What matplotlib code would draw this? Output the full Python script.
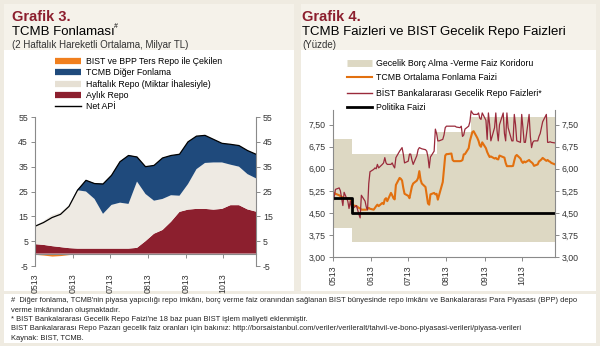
import numpy as np
import pandas as pd
import matplotlib
matplotlib.use('Agg')
import matplotlib.pyplot as plt
import matplotlib.dates as mdates
from matplotlib.lines import Line2D
from matplotlib.patches import Rectangle
from matplotlib.ticker import FuncFormatter

plt.rcParams['font.family'] = ['Liberation Sans', 'DejaVu Sans']
plt.rcParams['axes.unicode_minus'] = False

# --- Grafik 3: TCMB fonlamasi (milyar TL, 2 haftalik hareketli ortalama)
fon_tarih = pd.date_range('2013-05-01', '2013-10-28', periods=27)
ters_repo = [-0.3, -0.6, -1.0, -0.8, -0.4, -0.2, -0.1, -0.1, -0.2, -0.1, -0.1, -0.1, -0.1,
             0, 0, 0, 0, 0, 0, 0, 0, 0, 0, 0, 0, 0, 0]
aylik_repo = [3.8, 3.5, 3.0, 2.6, 2.2, 2.0, 2.0, 2.0, 2.0, 2.0, 2.0, 2.0, 2.3,
              5.0, 8.0, 9.5, 12.8, 16.8, 17.7, 18.0, 18.0, 17.7, 18.0, 19.5, 19.5, 17.8, 16.9]
haftalik_repo = [7.5, 9.6, 12.5, 14.0, 17.2, 23.5, 23.0, 20.0, 14.0, 17.6, 18.5, 18.0, 26.7,
                 19.0, 13.3, 12.5, 10.7, 6.5, 10.3, 16.0, 18.5, 19.0, 18.7, 16.3, 15.5, 14.2, 13.4]
diger_fonlama = [0, 0, 0, 0, 0, 0.2, 4.6, 6.3, 12.2, 12.0, 16.6, 19.6, 10.0,
                 11.0, 14.2, 16.5, 16.0, 16.7, 17.0, 13.3, 11.1, 9.3, 7.7, 8.2, 8.5, 9.5, 9.7]
net_api = np.array(ters_repo) + np.array(aylik_repo) + np.array(haftalik_repo) + np.array(diger_fonlama)

# --- Grafik 4: faizler (yuzde)
faiz_tarih = pd.bdate_range('2013-05-01', '2013-10-28')
bist_repo = [4.84, 5.05, 5.30, 5.35, 5.25, 5.00, 4.75, 5.20, 4.90, 4.65, 4.90, 4.70, 4.65, 4.75, 4.60,
             4.45, 4.33, 5.10, 4.90, 4.70, 4.60, 5.50, 5.90, 5.98, 6.03, 6.00, 6.15, 6.03, 6.15, 6.20,
             6.38, 6.20, 6.15, 6.15, 6.20, 6.10, 6.03, 6.38, 6.60, 6.66, 6.72, 6.50, 6.20, 6.26, 6.50,
             6.50, 6.30, 6.15, 6.45, 6.65, 6.72, 6.70, 6.68, 6.65, 6.60, 6.40, 6.03, 6.40, 6.60, 7.35,
             7.20, 6.95, 6.95, 7.00, 7.15, 7.40, 7.45, 7.45, 7.45, 7.45, 7.45, 7.45, 7.42, 7.40, 7.45,
             7.10, 7.15, 7.35, 7.45, 7.60, 7.97, 7.90, 7.85, 7.85, 7.90, 7.72, 7.68, 7.90, 7.65, 7.00,
             7.90, 7.50, 6.95, 7.40, 7.90, 7.30, 6.95, 7.50, 7.90, 7.20, 6.95, 7.90, 7.40, 6.95, 6.95,
             7.85, 7.50, 6.95, 6.90, 7.85, 7.40, 6.90, 6.90, 7.85, 7.10, 6.72, 6.90, 6.95, 6.95, 7.10,
             7.20, 7.40, 7.60, 7.85, 6.90, 6.90, 6.92, 6.90, 6.88]
tcmb_ort = [5.18, 5.18, 5.15, 5.10, 5.07, 5.05, 5.03, 5.00, 5.00, 5.00, 4.98, 4.85, 4.76, 4.73, 4.70,
            4.67, 4.65, 4.61, 4.61, 4.61, 4.64, 4.67, 4.64, 4.61, 4.67, 4.73, 4.78, 4.73, 4.84, 4.80,
            4.96, 5.00, 4.90, 5.18, 5.10, 5.00, 4.96, 5.45, 5.69, 5.66, 5.60, 5.35, 5.15, 5.08, 5.00,
            5.20, 5.40, 5.50, 5.60, 5.69, 5.92, 5.63, 5.50, 5.38, 5.10, 4.82, 4.78, 5.13, 5.18, 5.13,
            5.15, 4.95, 5.10, 5.55, 6.00, 6.45, 6.50, 6.50, 6.52, 6.30, 6.26, 6.26, 6.26, 6.26, 6.27,
            6.30, 6.49, 6.50, 6.70, 6.95, 7.10, 7.25, 7.28, 7.05, 6.95, 6.80, 6.75, 6.90, 6.70, 6.57,
            6.48, 6.40, 6.42, 6.35, 6.37, 6.33, 6.32, 6.45, 6.40, 6.38, 6.20, 6.09, 6.09, 6.09, 6.10,
            6.28, 6.43, 6.47, 6.35, 6.25, 6.20, 6.25, 6.22, 6.30, 6.25, 6.22, 6.18, 6.10, 6.15, 6.25,
            6.28, 6.32, 6.37, 6.27, 6.30, 6.26, 6.24, 6.20, 6.15]
koridor_tarih = pd.to_datetime(['2013-05-01', '2013-05-16', '2013-07-24', '2013-08-21', '2013-10-28'])
koridor_ust = [7.00, 6.50, 7.25, 7.75, 7.75]
koridor_alt = [4.00, 3.50, 3.50, 3.50, 3.50]
politika_tarih = pd.to_datetime(['2013-05-01', '2013-05-16', '2013-10-28'])
politika_faizi = [5.00, 4.50, 4.50]

ay_tick = pd.date_range('2013-05-01', '2013-10-01', freq='MS')
x_bas, x_son = pd.Timestamp('2013-05-01'), pd.Timestamp('2013-10-28')

bordo = '#8c1f2e'
mavi = '#1f4a7c'
krem = '#eeeae3'
turuncu = '#f07f1e'
gri = '#8a8a8a'
yazi = '#333333'

W, H = 600, 346
fig = plt.figure(figsize=(6, 3.46), dpi=100, facecolor='#efebe1')

def px(x, y):
    return x / W, 1 - y / H

def kutu(x0, y0, x1, y1, renk):
    fig.add_artist(Rectangle(px(x0, y1), (x1 - x0) / W, (y1 - y0) / H,
                             transform=fig.transFigure, facecolor=renk, edgecolor='none', zorder=-5))

kutu(4, 4, 294, 50, '#f5f2ea')
kutu(301, 4, 596, 50, '#f5f2ea')
kutu(4, 50, 294, 291, 'white')
kutu(301, 50, 596, 291, 'white')
kutu(4, 294, 596, 343, 'white')

# basliklar
fig.text(*px(12, 17), 'Grafik 3.', color=bordo, fontsize=10.5, fontweight='bold', va='center')
fig.text(*px(12, 32), 'TCMB Fonlaması', color='black', fontsize=9.5, va='center')
fig.text(*px(114, 27), '#', color='black', fontsize=5, va='center')
fig.text(*px(12, 45), '(2 Haftalık Hareketli Ortalama, Milyar TL)', color=yazi, fontsize=7, va='center')
fig.text(*px(302, 17), 'Grafik 4.', color=bordo, fontsize=10.5, fontweight='bold', va='center')
fig.text(*px(302, 32), 'TCMB Faizleri ve BIST Gecelik Repo Faizleri', color='black', fontsize=9.5, va='center')
fig.text(*px(302, 45), '(Yüzde)', color=yazi, fontsize=7, va='center')

def eksen_stili(ax, pad_x):
    for s in ['left', 'right', 'bottom']:
        ax.spines[s].set_color(gri)
        ax.spines[s].set_linewidth(0.8)
    ax.spines['top'].set_visible(False)
    ax.tick_params(axis='y', which='both', left=True, right=True, labelleft=True, labelright=True,
                   direction='out', length=3, width=0.7, color=gri, labelsize=6.3, labelcolor=yazi, pad=2)
    ax.set_xticks(ay_tick)
    ax.xaxis.set_major_formatter(mdates.DateFormatter('%m%y'))
    ax.set_xlim(x_bas, x_son)
    ax.tick_params(axis='x', direction='out', length=3, width=0.7, color=gri,
                   labelsize=6.3, labelcolor=yazi, pad=pad_x, labelrotation=90)

# --- sol grafik
ax1 = fig.add_axes([35 / W, 1 - 266 / H, 221 / W, 149 / H])
ax1.stackplot(fon_tarih, aylik_repo, haftalik_repo, diger_fonlama,
              colors=[bordo, krem, mavi], linewidth=0)
ax1.fill_between(fon_tarih, ters_repo, 0, color=turuncu, linewidth=0)
ax1.plot(fon_tarih, net_api, color='black', lw=0.9)
ax1.set_ylim(-5, 55)
ax1.set_yticks(np.arange(-5, 56, 10))
ax1.spines['bottom'].set_position(('data', 0))
eksen_stili(ax1, 11)

h1 = [Line2D([], [], color=turuncu, lw=4.5, solid_capstyle='butt'),
      Line2D([], [], color=mavi, lw=4.5, solid_capstyle='butt'),
      Line2D([], [], color='#e6e0d4', lw=4.5, solid_capstyle='butt'),
      Line2D([], [], color=bordo, lw=4.5, solid_capstyle='butt'),
      Line2D([], [], color='black', lw=1.0)]
l1 = ['BIST ve BPP Ters Repo ile Çekilen', 'TCMB Diğer Fonlama', 'Haftalık Repo (Miktar İhalesiyle)',
      'Aylık Repo', 'Net APİ']
fig.legend(h1, l1, loc='upper left', bbox_to_anchor=px(55, 57), frameon=False, fontsize=6.3,
           borderpad=0, borderaxespad=0, handlelength=3.0, handletextpad=0.5, labelspacing=0.22,
           labelcolor='black')

# --- sag grafik
ax2 = fig.add_axes([333 / W, 1 - 257 / H, 222 / W, 147 / H])
ax2.fill_between(koridor_tarih, koridor_alt, koridor_ust, step='post', color='#ddd8c3', linewidth=0)
ax2.plot(faiz_tarih, tcmb_ort, color='#e2700f', lw=1.5)
ax2.plot(faiz_tarih, bist_repo, color='#9a2a3b', lw=0.9)
ax2.plot(politika_tarih, politika_faizi, color='black', lw=2.0, drawstyle='steps-post')
ax2.set_ylim(3, 8)
ax2.set_yticks(np.arange(3, 7.6, 0.75))
ax2.yaxis.set_major_formatter(FuncFormatter(lambda v, p: f'{v:.2f}'.replace('.', ',')))
eksen_stili(ax2, 3)

h2 = [Line2D([], [], color='#ddd8c3', lw=5, solid_capstyle='butt'),
      Line2D([], [], color='#e2700f', lw=1.5),
      Line2D([], [], color='#9a2a3b', lw=1.0),
      Line2D([], [], color='black', lw=2.0)]
l2 = ['Gecelik Borç Alma -Verme Faiz Koridoru', 'TCMB Ortalama Fonlama Faizi',
      'BİST Bankalararası Gecelik Repo Faizleri*', 'Politika Faizi']
fig.legend(h2, l2, loc='upper left', bbox_to_anchor=px(347, 59), frameon=False, fontsize=6.3,
           borderpad=0, borderaxespad=0, handlelength=2.8, handletextpad=0.5, labelspacing=0.62,
           labelcolor='black')

# dipnotlar
notlar = ["#  Diğer fonlama, TCMB'nin piyasa yapıcılığı repo imkânı, borç verme faiz oranından sağlanan BIST bünyesinde repo imkânı ve Bankalararası Para Piyasası (BPP) depo",
          "verme imkânından oluşmaktadır.",
          "* BIST Bankalararası Gecelik Repo Faizi'ne 18 baz puan BIST işlem maliyeti eklenmiştir.",
          "BIST Bankalararası Repo Pazarı gecelik faiz oranları için bakınız: http://borsaistanbul.com/veriler/verileralt/tahvil-ve-bono-piyasasi-verileri/piyasa-verileri",
          "Kaynak: BIST, TCMB."]
for i, n in enumerate(notlar):
    fig.text(*px(11, 301 + i * 9.3), n, fontsize=5.4, color='#222222', va='center')

fig.savefig('out.png', dpi=100, facecolor=fig.get_facecolor())
